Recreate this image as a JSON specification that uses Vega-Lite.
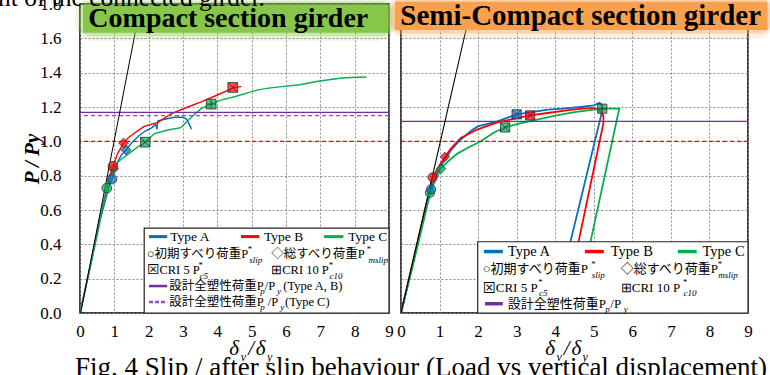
{
  "$schema": "https://vega.github.io/schema/vega-lite/v6.json",
  "background": "white",
  "padding": {"left": -3, "top": -15, "right": 0, "bottom": 0},
  "bounds": "flush",
  "spacing": 12,
  "config": {
    "view": {"stroke": "black", "strokeWidth": 1.5},
    "axis": {"domain": false, "ticks": false, "labelFont": "Liberation Serif", "labelFontSize": 17, "labelColor": "black", "gridColor": "#8a8a8a", "gridDash": [2, 2], "gridWidth": 1, "labelFlush": false, "labelOverlap": false, "tickCount": 20},
    "style": {
      "lg": {"font": "Liberation Serif, Noto Sans CJK JP", "fontSize": 12.5, "align": "left", "baseline": "middle", "color": "black"},
      "lgb": {"font": "Liberation Serif", "fontSize": 13.5, "align": "left", "baseline": "middle", "color": "black"},
      "sub": {"font": "Liberation Serif", "fontSize": 9, "fontStyle": "italic", "align": "left", "baseline": "middle", "color": "black"},
      "xt": {"font": "Liberation Serif", "fontSize": 21, "fontStyle": "italic", "align": "left", "baseline": "alphabetic", "color": "black"},
      "xs": {"font": "Liberation Serif", "fontSize": 12, "fontStyle": "italic", "align": "left", "baseline": "alphabetic", "color": "black"}
    }
  },
  "datasets": {
    "curvesL": [
      {"type": "Type A", "i": 0, "x": 0, "y": 0}, {"type": "Type A", "i": 1, "x": 0.3, "y": 0.27}, {"type": "Type A", "i": 2, "x": 0.6, "y": 0.55}, {"type": "Type A", "i": 3, "x": 0.85, "y": 0.74}, {"type": "Type A", "i": 4, "x": 0.93, "y": 0.78}, {"type": "Type A", "i": 5, "x": 1.05, "y": 0.86}, {"type": "Type A", "i": 6, "x": 1.2, "y": 0.92}, {"type": "Type A", "i": 7, "x": 1.34, "y": 0.95}, {"type": "Type A", "i": 8, "x": 1.5, "y": 0.99}, {"type": "Type A", "i": 9, "x": 1.7, "y": 1.03}, {"type": "Type A", "i": 10, "x": 1.9, "y": 1.06}, {"type": "Type A", "i": 11, "x": 2.1, "y": 1.08}, {"type": "Type A", "i": 12, "x": 2.2, "y": 1.1}, {"type": "Type A", "i": 13, "x": 2.24, "y": 1.07}, {"type": "Type A", "i": 14, "x": 2.27, "y": 1.12}, {"type": "Type A", "i": 15, "x": 2.5, "y": 1.13}, {"type": "Type A", "i": 16, "x": 2.75, "y": 1.14}, {"type": "Type A", "i": 17, "x": 3.0, "y": 1.14}, {"type": "Type A", "i": 18, "x": 3.1, "y": 1.13}, {"type": "Type A", "i": 19, "x": 3.18, "y": 1.1}, {"type": "Type A", "i": 20, "x": 3.25, "y": 1.07},
      {"type": "Type B", "i": 0, "x": 0, "y": 0}, {"type": "Type B", "i": 1, "x": 0.3, "y": 0.28}, {"type": "Type B", "i": 2, "x": 0.6, "y": 0.57}, {"type": "Type B", "i": 3, "x": 0.85, "y": 0.79}, {"type": "Type B", "i": 4, "x": 0.96, "y": 0.855}, {"type": "Type B", "i": 5, "x": 1.1, "y": 0.93}, {"type": "Type B", "i": 6, "x": 1.27, "y": 0.99}, {"type": "Type B", "i": 7, "x": 1.4, "y": 1.02}, {"type": "Type B", "i": 8, "x": 1.6, "y": 1.05}, {"type": "Type B", "i": 9, "x": 1.87, "y": 1.087}, {"type": "Type B", "i": 10, "x": 2.27, "y": 1.11}, {"type": "Type B", "i": 11, "x": 2.65, "y": 1.16}, {"type": "Type B", "i": 12, "x": 3.14, "y": 1.2}, {"type": "Type B", "i": 13, "x": 3.53, "y": 1.23}, {"type": "Type B", "i": 14, "x": 4.0, "y": 1.27}, {"type": "Type B", "i": 15, "x": 4.45, "y": 1.31}, {"type": "Type B", "i": 16, "x": 4.7, "y": 1.32},
      {"type": "Type C", "i": 0, "x": 0, "y": 0}, {"type": "Type C", "i": 1, "x": 0.3, "y": 0.27}, {"type": "Type C", "i": 2, "x": 0.6, "y": 0.56}, {"type": "Type C", "i": 3, "x": 0.78, "y": 0.727}, {"type": "Type C", "i": 4, "x": 0.9, "y": 0.8}, {"type": "Type C", "i": 5, "x": 0.98, "y": 0.84}, {"type": "Type C", "i": 6, "x": 1.1, "y": 0.88}, {"type": "Type C", "i": 7, "x": 1.3, "y": 0.91}, {"type": "Type C", "i": 8, "x": 1.5, "y": 0.94}, {"type": "Type C", "i": 9, "x": 1.7, "y": 0.97}, {"type": "Type C", "i": 10, "x": 1.9, "y": 0.995}, {"type": "Type C", "i": 11, "x": 2.17, "y": 1.045}, {"type": "Type C", "i": 12, "x": 2.56, "y": 1.066}, {"type": "Type C", "i": 13, "x": 2.94, "y": 1.08}, {"type": "Type C", "i": 14, "x": 3.24, "y": 1.14}, {"type": "Type C", "i": 15, "x": 3.53, "y": 1.19}, {"type": "Type C", "i": 16, "x": 3.82, "y": 1.217}, {"type": "Type C", "i": 17, "x": 4.1, "y": 1.24}, {"type": "Type C", "i": 18, "x": 4.5, "y": 1.26}, {"type": "Type C", "i": 19, "x": 5.18, "y": 1.3}, {"type": "Type C", "i": 20, "x": 5.5, "y": 1.31}, {"type": "Type C", "i": 21, "x": 5.95, "y": 1.32}, {"type": "Type C", "i": 22, "x": 6.4, "y": 1.33}, {"type": "Type C", "i": 23, "x": 6.93, "y": 1.35}, {"type": "Type C", "i": 24, "x": 7.3, "y": 1.36}, {"type": "Type C", "i": 25, "x": 7.7, "y": 1.37}, {"type": "Type C", "i": 26, "x": 8.34, "y": 1.375}
    ],
    "curvesR": [
      {"type": "Type A", "i": 0, "x": 0, "y": 0}, {"type": "Type A", "i": 1, "x": 0.3, "y": 0.28}, {"type": "Type A", "i": 2, "x": 0.6, "y": 0.56}, {"type": "Type A", "i": 3, "x": 0.78, "y": 0.72}, {"type": "Type A", "i": 4, "x": 0.9, "y": 0.8}, {"type": "Type A", "i": 5, "x": 1.1, "y": 0.88}, {"type": "Type A", "i": 6, "x": 1.3, "y": 0.95}, {"type": "Type A", "i": 7, "x": 1.5, "y": 1.0}, {"type": "Type A", "i": 8, "x": 1.81, "y": 1.06}, {"type": "Type A", "i": 9, "x": 1.99, "y": 1.087}, {"type": "Type A", "i": 10, "x": 2.5, "y": 1.116}, {"type": "Type A", "i": 11, "x": 3.0, "y": 1.157}, {"type": "Type A", "i": 12, "x": 3.4, "y": 1.17}, {"type": "Type A", "i": 13, "x": 3.8, "y": 1.185}, {"type": "Type A", "i": 14, "x": 4.2, "y": 1.19}, {"type": "Type A", "i": 15, "x": 4.66, "y": 1.2}, {"type": "Type A", "i": 16, "x": 5.0, "y": 1.21}, {"type": "Type A", "i": 17, "x": 5.15, "y": 1.225}, {"type": "Type A", "i": 18, "x": 5.2, "y": 1.215}, {"type": "Type A", "i": 19, "x": 5.2, "y": 1.16}, {"type": "Type A", "i": 20, "x": 4.4, "y": 0.42}, {"type": "Type A", "i": 21, "x": 3.96, "y": 0.0},
      {"type": "Type B", "i": 0, "x": 0, "y": 0}, {"type": "Type B", "i": 1, "x": 0.3, "y": 0.29}, {"type": "Type B", "i": 2, "x": 0.6, "y": 0.58}, {"type": "Type B", "i": 3, "x": 0.82, "y": 0.79}, {"type": "Type B", "i": 4, "x": 1.0, "y": 0.86}, {"type": "Type B", "i": 5, "x": 1.14, "y": 0.91}, {"type": "Type B", "i": 6, "x": 1.3, "y": 0.96}, {"type": "Type B", "i": 7, "x": 1.55, "y": 1.02}, {"type": "Type B", "i": 8, "x": 1.99, "y": 1.07}, {"type": "Type B", "i": 9, "x": 2.5, "y": 1.11}, {"type": "Type B", "i": 10, "x": 3.0, "y": 1.135}, {"type": "Type B", "i": 11, "x": 3.35, "y": 1.151}, {"type": "Type B", "i": 12, "x": 3.8, "y": 1.165}, {"type": "Type B", "i": 13, "x": 4.3, "y": 1.18}, {"type": "Type B", "i": 14, "x": 4.7, "y": 1.19}, {"type": "Type B", "i": 15, "x": 5.0, "y": 1.194}, {"type": "Type B", "i": 16, "x": 5.1, "y": 1.19}, {"type": "Type B", "i": 17, "x": 5.25, "y": 1.15}, {"type": "Type B", "i": 18, "x": 5.25, "y": 1.106}, {"type": "Type B", "i": 19, "x": 4.61, "y": 0.42}, {"type": "Type B", "i": 20, "x": 4.22, "y": 0.0},
      {"type": "Type C", "i": 0, "x": 0, "y": 0}, {"type": "Type C", "i": 1, "x": 0.3, "y": 0.27}, {"type": "Type C", "i": 2, "x": 0.6, "y": 0.55}, {"type": "Type C", "i": 3, "x": 0.75, "y": 0.7}, {"type": "Type C", "i": 4, "x": 0.9, "y": 0.78}, {"type": "Type C", "i": 5, "x": 1.04, "y": 0.84}, {"type": "Type C", "i": 6, "x": 1.2, "y": 0.88}, {"type": "Type C", "i": 7, "x": 1.47, "y": 0.93}, {"type": "Type C", "i": 8, "x": 1.8, "y": 0.97}, {"type": "Type C", "i": 9, "x": 2.07, "y": 1.0}, {"type": "Type C", "i": 10, "x": 2.4, "y": 1.05}, {"type": "Type C", "i": 11, "x": 2.7, "y": 1.081}, {"type": "Type C", "i": 12, "x": 3.0, "y": 1.1}, {"type": "Type C", "i": 13, "x": 3.5, "y": 1.125}, {"type": "Type C", "i": 14, "x": 4.0, "y": 1.15}, {"type": "Type C", "i": 15, "x": 4.5, "y": 1.17}, {"type": "Type C", "i": 16, "x": 5.0, "y": 1.185}, {"type": "Type C", "i": 17, "x": 5.22, "y": 1.19}, {"type": "Type C", "i": 18, "x": 5.66, "y": 1.19}, {"type": "Type C", "i": 19, "x": 4.92, "y": 0.42}, {"type": "Type C", "i": 20, "x": 4.52, "y": 0.0}
    ],
    "markersL": [
      {"type": "Type C", "kind": "slip", "x": 0.78, "y": 0.727},
      {"type": "Type C", "kind": "mslip", "x": 0.98, "y": 0.84},
      {"type": "Type A", "kind": "slip", "x": 0.93, "y": 0.78},
      {"type": "Type A", "kind": "mslip", "x": 1.34, "y": 0.95},
      {"type": "Type B", "kind": "slip", "x": 0.96, "y": 0.855},
      {"type": "Type B", "kind": "mslip", "x": 1.27, "y": 0.99},
      {"type": "Type B", "kind": "cri5", "x": 4.45, "y": 1.314},
      {"type": "Type C", "kind": "cri5", "x": 1.9, "y": 0.995},
      {"type": "Type C", "kind": "cri10", "x": 3.82, "y": 1.217}
    ],
    "markersR": [
      {"type": "Type C", "kind": "slip", "x": 0.75, "y": 0.7},
      {"type": "Type A", "kind": "slip", "x": 0.78, "y": 0.72},
      {"type": "Type B", "kind": "slip", "x": 0.82, "y": 0.79},
      {"type": "Type C", "kind": "mslip", "x": 1.04, "y": 0.84},
      {"type": "Type B", "kind": "mslip", "x": 1.14, "y": 0.91},
      {"type": "Type A", "kind": "cri5", "x": 3.0, "y": 1.157},
      {"type": "Type B", "kind": "cri5", "x": 3.35, "y": 1.151},
      {"type": "Type C", "kind": "cri5", "x": 2.7, "y": 1.081},
      {"type": "Type C", "kind": "cri10", "x": 5.22, "y": 1.19}
    ]
  },
  "hconcat": [
    {
      "width": 309,
      "height": 309,
      "layer": [
        {
          "data": {"name": "curvesL"},
          "mark": {"type": "line", "strokeWidth": 1.4},
          "encoding": {
            "x": {"field": "x", "type": "quantitative", "scale": {"domain": [0, 9], "nice": false, "zero": false}, "axis": {"values": [0, 1, 2, 3, 4, 5, 6, 7, 8, 9], "tickCount": 20, "format": "d", "labelPadding": 10, "labelFont": "Liberation Serif", "labelFontSize": 17, "labelColor": "black", "labelOverlap": false, "labelFlush": false, "domain": false, "ticks": false, "grid": true, "gridColor": "#8a8a8a", "gridDash": [2, 2], "title": null}},
            "y": {"field": "y", "type": "quantitative", "scale": {"domain": [0, 1.8], "nice": false}, "axis": {"values": [0, 0.2, 0.4, 0.6, 0.8, 1.0, 1.2, 1.4, 1.6, 1.8], "tickCount": 20, "format": ".1f", "labelPadding": 19, "labelFont": "Liberation Serif", "labelFontSize": 17, "labelColor": "black", "labelOverlap": false, "labelFlush": false, "domain": false, "ticks": false, "grid": true, "gridColor": "#8a8a8a", "gridDash": [2, 2], "title": "P / Py", "titleFont": "Liberation Serif", "titleFontSize": 21, "titleFontStyle": "italic", "titleFontWeight": "bold", "titleColor": "black", "titlePadding": -3}},
            "color": {"field": "type", "type": "nominal", "scale": {"domain": ["Type A", "Type B", "Type C"], "range": ["#0070C0", "#FF0000", "#00B050"]}, "legend": null},
            "order": {"field": "i", "type": "quantitative"}
          }
        },
        {"data": {"values": [{}]}, "mark": {"type": "rule", "color": "#FF0000", "strokeDash": [4, 3], "strokeWidth": 1.2}, "encoding": {"y": {"datum": 1.0}}},
        {"data": {"values": [{}]}, "mark": {"type": "rule", "color": "#8E4FD0", "strokeDash": [4, 3], "strokeWidth": 1.2}, "encoding": {"y": {"datum": 1.15}}},
        {"data": {"values": [{}]}, "mark": {"type": "rule", "color": "#7030A0", "strokeWidth": 1.2}, "encoding": {"y": {"datum": 1.169}}},
        {"data": {"values": [{}]}, "mark": {"type": "rule", "color": "black", "strokeWidth": 1}, "encoding": {"x": {"datum": 0.02}, "y": {"datum": 0}, "x2": {"datum": 1.77}, "y2": {"datum": 1.8}}},
        {
          "data": {"name": "markersL"},
          "mark": {"type": "point", "filled": true, "size": 95, "fillOpacity": 0.7, "stroke": "#303030", "strokeWidth": 0.8},
          "encoding": {
            "x": {"field": "x", "type": "quantitative"},
            "y": {"field": "y", "type": "quantitative"},
            "color": {"field": "type", "type": "nominal", "legend": null},
            "shape": {"field": "kind", "type": "nominal", "scale": {"domain": ["slip", "mslip", "cri5", "cri10"], "range": ["circle", "diamond", "M-1,-1H1V1H-1ZM-1,-1L1,1M1,-1L-1,1", "M-1,-1H1V1H-1ZM0,-1V1M-1,0H1"]}, "legend": null}
          }
        },
        {"data": {"values": [{}]}, "mark": {"type": "rect", "fill": "white", "stroke": "#222", "strokeWidth": 1.2}, "encoding": {"x": {"datum": 1.87}, "x2": {"datum": 9}, "y": {"datum": 0}, "y2": {"datum": 0.495}}},
        {"data": {"values": [{}]}, "mark": {"type": "rule", "color": "#0070C0", "strokeWidth": 3}, "encoding": {"x": {"datum": 2.01}, "x2": {"datum": 2.54}, "y": {"datum": 0.445}}},
        {"data": {"values": [{}]}, "mark": {"type": "rule", "color": "#FF0000", "strokeWidth": 3}, "encoding": {"x": {"datum": 4.69}, "x2": {"datum": 5.22}, "y": {"datum": 0.445}}},
        {"data": {"values": [{}]}, "mark": {"type": "rule", "color": "#00B050", "strokeWidth": 3}, "encoding": {"x": {"datum": 7.11}, "x2": {"datum": 7.67}, "y": {"datum": 0.445}}},
        {"data": {"values": [{}]}, "mark": {"type": "text", "style": "lgb"}, "encoding": {"x": {"datum": 2.63}, "y": {"datum": 0.445}, "text": {"value": "Type A"}}},
        {"data": {"values": [{}]}, "mark": {"type": "text", "style": "lgb"}, "encoding": {"x": {"datum": 5.36}, "y": {"datum": 0.445}, "text": {"value": "Type B"}}},
        {"data": {"values": [{}]}, "mark": {"type": "text", "style": "lgb"}, "encoding": {"x": {"datum": 7.81}, "y": {"datum": 0.445}, "text": {"value": "Type C"}}},
        {"data": {"values": [{}]}, "mark": {"type": "text", "style": "lg"}, "encoding": {"x": {"datum": 1.95}, "y": {"datum": 0.344}, "text": {"value": "○初期すべり荷重P"}}},
        {"data": {"values": [{}]}, "mark": {"type": "text", "style": "sub"}, "encoding": {"x": {"datum": 4.87}, "y": {"datum": 0.374}, "text": {"value": "*"}}},
        {"data": {"values": [{}]}, "mark": {"type": "text", "style": "sub"}, "encoding": {"x": {"datum": 4.93}, "y": {"datum": 0.31}, "text": {"value": "slip"}}},
        {"data": {"values": [{}]}, "mark": {"type": "text", "style": "lg"}, "encoding": {"x": {"datum": 5.57}, "y": {"datum": 0.344}, "text": {"value": "◇総すべり荷重P"}}},
        {"data": {"values": [{}]}, "mark": {"type": "text", "style": "sub"}, "encoding": {"x": {"datum": 8.34}, "y": {"datum": 0.374}, "text": {"value": "*"}}},
        {"data": {"values": [{}]}, "mark": {"type": "text", "style": "sub"}, "encoding": {"x": {"datum": 8.4}, "y": {"datum": 0.31}, "text": {"value": "mslip"}}},
        {"data": {"values": [{}]}, "mark": {"type": "text", "style": "lg"}, "encoding": {"x": {"datum": 1.95}, "y": {"datum": 0.25}, "text": {"value": "⊠CRI 5 P"}}},
        {"data": {"values": [{}]}, "mark": {"type": "text", "style": "sub"}, "encoding": {"x": {"datum": 3.44}, "y": {"datum": 0.28}, "text": {"value": "*"}}},
        {"data": {"values": [{}]}, "mark": {"type": "text", "style": "sub"}, "encoding": {"x": {"datum": 3.48}, "y": {"datum": 0.216}, "text": {"value": "c5"}}},
        {"data": {"values": [{}]}, "mark": {"type": "text", "style": "lg"}, "encoding": {"x": {"datum": 5.57}, "y": {"datum": 0.25}, "text": {"value": "⊞CRI 10 P"}}},
        {"data": {"values": [{}]}, "mark": {"type": "text", "style": "sub"}, "encoding": {"x": {"datum": 7.23}, "y": {"datum": 0.28}, "text": {"value": "*"}}},
        {"data": {"values": [{}]}, "mark": {"type": "text", "style": "sub"}, "encoding": {"x": {"datum": 7.27}, "y": {"datum": 0.216}, "text": {"value": "c10"}}},
        {"data": {"values": [{}]}, "mark": {"type": "rule", "color": "#7030A0", "strokeWidth": 2.5}, "encoding": {"x": {"datum": 2.01}, "x2": {"datum": 2.54}, "y": {"datum": 0.157}}},
        {"data": {"values": [{}]}, "mark": {"type": "text", "style": "lg"}, "encoding": {"x": {"datum": 2.6}, "y": {"datum": 0.157}, "text": {"value": "設計全塑性荷重P"}}},
        {"data": {"values": [{}]}, "mark": {"type": "text", "style": "sub"}, "encoding": {"x": {"datum": 5.25}, "y": {"datum": 0.126}, "text": {"value": "p"}}},
        {"data": {"values": [{}]}, "mark": {"type": "text", "style": "lg"}, "encoding": {"x": {"datum": 5.38}, "y": {"datum": 0.157}, "text": {"value": "/P"}}},
        {"data": {"values": [{}]}, "mark": {"type": "text", "style": "sub"}, "encoding": {"x": {"datum": 5.74}, "y": {"datum": 0.126}, "text": {"value": "y"}}},
        {"data": {"values": [{}]}, "mark": {"type": "text", "style": "lg"}, "encoding": {"x": {"datum": 5.92}, "y": {"datum": 0.157}, "text": {"value": "(Type A, B)"}}},
        {"data": {"values": [{}]}, "mark": {"type": "rule", "color": "#8E4FD0", "strokeWidth": 2.5, "strokeDash": [4, 2]}, "encoding": {"x": {"datum": 2.01}, "x2": {"datum": 2.54}, "y": {"datum": 0.064}}},
        {"data": {"values": [{}]}, "mark": {"type": "text", "style": "lg"}, "encoding": {"x": {"datum": 2.6}, "y": {"datum": 0.064}, "text": {"value": "設計全塑性荷重P"}}},
        {"data": {"values": [{}]}, "mark": {"type": "text", "style": "sub"}, "encoding": {"x": {"datum": 5.25}, "y": {"datum": 0.033}, "text": {"value": "p"}}},
        {"data": {"values": [{}]}, "mark": {"type": "text", "style": "lg"}, "encoding": {"x": {"datum": 5.47}, "y": {"datum": 0.064}, "text": {"value": "/P"}}},
        {"data": {"values": [{}]}, "mark": {"type": "text", "style": "sub"}, "encoding": {"x": {"datum": 5.83}, "y": {"datum": 0.033}, "text": {"value": "y"}}},
        {"data": {"values": [{}]}, "mark": {"type": "text", "style": "lg"}, "encoding": {"x": {"datum": 5.97}, "y": {"datum": 0.064}, "text": {"value": "(Type C)"}}},
        {"data": {"values": [{}]}, "mark": {"type": "rect", "fill": null, "stroke": "#8DCB4F", "strokeWidth": 18, "strokeOpacity": 0.18, "cornerRadius": 10, "clip": false}, "encoding": {"x": {"datum": 0.12}, "x2": {"datum": 8.95}, "y": {"datum": 1.789}, "y2": {"datum": 1.638}}},
        {"data": {"values": [{}]}, "mark": {"type": "rect", "fill": null, "stroke": "#8DCB4F", "strokeWidth": 9, "strokeOpacity": 0.35, "cornerRadius": 6, "clip": false}, "encoding": {"x": {"datum": 0.12}, "x2": {"datum": 8.95}, "y": {"datum": 1.789}, "y2": {"datum": 1.638}}},
        {"data": {"values": [{}]}, "mark": {"type": "rect", "fill": "#86C74A", "stroke": "#86C74A", "strokeWidth": 2, "clip": false}, "encoding": {"x": {"datum": 0.12}, "x2": {"datum": 8.95}, "y": {"datum": 1.789}, "y2": {"datum": 1.638}}},
        {"data": {"values": [{}]}, "mark": {"type": "text", "font": "Liberation Serif", "fontSize": 28, "fontWeight": "bold", "align": "center", "baseline": "alphabetic", "color": "black", "clip": false}, "encoding": {"x": {"datum": 4.32}, "y": {"datum": 1.664}, "text": {"value": "Compact section girder"}}},
        {"data": {"values": [{}]}, "mark": {"type": "text", "font": "Liberation Serif", "fontSize": 25.5, "align": "left", "baseline": "alphabetic", "color": "black", "clip": false}, "encoding": {"x": {"datum": -2.39}, "y": {"datum": 1.789}, "text": {"value": "nt of the connected girder."}}},
        {"data": {"values": [{}]}, "mark": {"type": "text", "style": "xt"}, "encoding": {"x": {"datum": 4.35}, "y": {"datum": -0.245}, "text": {"value": "δ"}}},
        {"data": {"values": [{}]}, "mark": {"type": "text", "style": "xs"}, "encoding": {"x": {"datum": 4.68}, "y": {"datum": -0.28}, "text": {"value": "v"}}},
        {"data": {"values": [{}]}, "mark": {"type": "text", "style": "xt"}, "encoding": {"x": {"datum": 4.9}, "y": {"datum": -0.245}, "text": {"value": "/"}}},
        {"data": {"values": [{}]}, "mark": {"type": "text", "style": "xt"}, "encoding": {"x": {"datum": 5.12}, "y": {"datum": -0.245}, "text": {"value": "δ"}}},
        {"data": {"values": [{}]}, "mark": {"type": "text", "style": "xs"}, "encoding": {"x": {"datum": 5.45}, "y": {"datum": -0.28}, "text": {"value": "y"}}},
        {"data": {"values": [{}]}, "mark": {"type": "text", "font": "Liberation Serif", "fontSize": 27, "align": "left", "baseline": "alphabetic", "color": "black"}, "encoding": {"x": {"datum": -0.146}, "y": {"datum": -0.365}, "text": {"value": "Fig. 4 Slip / after slip behaviour (Load vs vertical displacement)"}}}
      ]
    },
    {
      "width": 347,
      "height": 309,
      "layer": [
        {
          "data": {"name": "curvesR"},
          "mark": {"type": "line", "strokeWidth": 1.8},
          "encoding": {
            "x": {"field": "x", "type": "quantitative", "scale": {"domain": [0, 9], "nice": false, "zero": false}, "axis": {"values": [0, 1, 2, 3, 4, 5, 6, 7, 8, 9], "tickCount": 20, "format": "d", "labelPadding": 10, "labelFont": "Liberation Serif", "labelFontSize": 17, "labelColor": "black", "labelOverlap": false, "labelFlush": false, "domain": false, "ticks": false, "grid": true, "gridColor": "#8a8a8a", "gridDash": [2, 2], "title": null}},
            "y": {"field": "y", "type": "quantitative", "scale": {"domain": [0, 1.8], "nice": false}, "axis": {"values": [0, 0.2, 0.4, 0.6, 0.8, 1.0, 1.2, 1.4, 1.6, 1.8], "tickCount": 20, "labels": false, "domain": false, "ticks": false, "grid": true, "gridColor": "#8a8a8a", "gridDash": [2, 2], "title": null}},
            "color": {"field": "type", "type": "nominal", "scale": {"domain": ["Type A", "Type B", "Type C"], "range": ["#0070C0", "#FF0000", "#00B050"]}, "legend": null},
            "order": {"field": "i", "type": "quantitative"}
          }
        },
        {"data": {"values": [{}]}, "mark": {"type": "rule", "color": "#FF0000", "strokeDash": [4, 3], "strokeWidth": 1.2}, "encoding": {"y": {"datum": 1.0}}},
        {"data": {"values": [{}]}, "mark": {"type": "rule", "color": "#7030A0", "strokeWidth": 1.2}, "encoding": {"y": {"datum": 1.116}}},
        {"data": {"values": [{}]}, "mark": {"type": "rule", "color": "black", "strokeWidth": 1.1}, "encoding": {"x": {"datum": 0.0}, "y": {"datum": 0}, "x2": {"datum": 1.84}, "y2": {"datum": 1.8}}},
        {
          "data": {"name": "markersR"},
          "mark": {"type": "point", "filled": true, "size": 85, "fillOpacity": 0.7, "stroke": "#303030", "strokeWidth": 0.8},
          "encoding": {
            "x": {"field": "x", "type": "quantitative"},
            "y": {"field": "y", "type": "quantitative"},
            "color": {"field": "type", "type": "nominal", "legend": null},
            "shape": {"field": "kind", "type": "nominal", "scale": {"domain": ["slip", "mslip", "cri5", "cri10"], "range": ["circle", "diamond", "M-1,-1H1V1H-1ZM-1,-1L1,1M1,-1L-1,1", "M-1,-1H1V1H-1ZM0,-1V1M-1,0H1"]}, "legend": null}
          }
        },
        {"data": {"values": [{}]}, "mark": {"type": "rect", "fill": "white", "stroke": "#222", "strokeWidth": 1.2}, "encoding": {"x": {"datum": 1.99}, "x2": {"datum": 9}, "y": {"datum": 0}, "y2": {"datum": 0.415}}},
        {"data": {"values": [{}]}, "mark": {"type": "rule", "color": "#0070C0", "strokeWidth": 3.5}, "encoding": {"x": {"datum": 2.15}, "x2": {"datum": 2.64}, "y": {"datum": 0.358}}},
        {"data": {"values": [{}]}, "mark": {"type": "rule", "color": "#FF0000", "strokeWidth": 3.5}, "encoding": {"x": {"datum": 4.77}, "x2": {"datum": 5.26}, "y": {"datum": 0.358}}},
        {"data": {"values": [{}]}, "mark": {"type": "rule", "color": "#00B050", "strokeWidth": 3.5}, "encoding": {"x": {"datum": 7.18}, "x2": {"datum": 7.67}, "y": {"datum": 0.358}}},
        {"data": {"values": [{}]}, "mark": {"type": "text", "style": "lgb", "fontSize": 14.5}, "encoding": {"x": {"datum": 2.77}, "y": {"datum": 0.358}, "text": {"value": "Type A"}}},
        {"data": {"values": [{}]}, "mark": {"type": "text", "style": "lgb", "fontSize": 14.5}, "encoding": {"x": {"datum": 5.44}, "y": {"datum": 0.358}, "text": {"value": "Type B"}}},
        {"data": {"values": [{}]}, "mark": {"type": "text", "style": "lgb", "fontSize": 14.5}, "encoding": {"x": {"datum": 7.82}, "y": {"datum": 0.358}, "text": {"value": "Type C"}}},
        {"data": {"values": [{}]}, "mark": {"type": "text", "style": "lg", "fontSize": 13}, "encoding": {"x": {"datum": 2.12}, "y": {"datum": 0.256}, "text": {"value": "○初期すべり荷重P"}}},
        {"data": {"values": [{}]}, "mark": {"type": "text", "style": "sub"}, "encoding": {"x": {"datum": 4.92}, "y": {"datum": 0.286}, "text": {"value": "*"}}},
        {"data": {"values": [{}]}, "mark": {"type": "text", "style": "sub"}, "encoding": {"x": {"datum": 4.95}, "y": {"datum": 0.222}, "text": {"value": "slip"}}},
        {"data": {"values": [{}]}, "mark": {"type": "text", "style": "lg", "fontSize": 13}, "encoding": {"x": {"datum": 5.7}, "y": {"datum": 0.256}, "text": {"value": "◇総すべり荷重P"}}},
        {"data": {"values": [{}]}, "mark": {"type": "text", "style": "sub"}, "encoding": {"x": {"datum": 8.2}, "y": {"datum": 0.286}, "text": {"value": "*"}}},
        {"data": {"values": [{}]}, "mark": {"type": "text", "style": "sub"}, "encoding": {"x": {"datum": 8.23}, "y": {"datum": 0.222}, "text": {"value": "mslip"}}},
        {"data": {"values": [{}]}, "mark": {"type": "text", "style": "lg", "fontSize": 13}, "encoding": {"x": {"datum": 2.12}, "y": {"datum": 0.148}, "text": {"value": "⊠CRI 5 P"}}},
        {"data": {"values": [{}]}, "mark": {"type": "text", "style": "sub"}, "encoding": {"x": {"datum": 3.55}, "y": {"datum": 0.178}, "text": {"value": "*"}}},
        {"data": {"values": [{}]}, "mark": {"type": "text", "style": "sub"}, "encoding": {"x": {"datum": 3.58}, "y": {"datum": 0.114}, "text": {"value": "c5"}}},
        {"data": {"values": [{}]}, "mark": {"type": "text", "style": "lg", "fontSize": 13}, "encoding": {"x": {"datum": 5.7}, "y": {"datum": 0.148}, "text": {"value": "⊞CRI 10 P"}}},
        {"data": {"values": [{}]}, "mark": {"type": "text", "style": "sub"}, "encoding": {"x": {"datum": 7.3}, "y": {"datum": 0.178}, "text": {"value": "*"}}},
        {"data": {"values": [{}]}, "mark": {"type": "text", "style": "sub"}, "encoding": {"x": {"datum": 7.33}, "y": {"datum": 0.114}, "text": {"value": "c10"}}},
        {"data": {"values": [{}]}, "mark": {"type": "rule", "color": "#7030A0", "strokeWidth": 3.5}, "encoding": {"x": {"datum": 2.18}, "x2": {"datum": 2.64}, "y": {"datum": 0.054}}},
        {"data": {"values": [{}]}, "mark": {"type": "text", "style": "lg", "fontSize": 13}, "encoding": {"x": {"datum": 2.77}, "y": {"datum": 0.054}, "text": {"value": "設計全塑性荷重P"}}},
        {"data": {"values": [{}]}, "mark": {"type": "text", "style": "sub"}, "encoding": {"x": {"datum": 5.3}, "y": {"datum": 0.022}, "text": {"value": "p"}}},
        {"data": {"values": [{}]}, "mark": {"type": "text", "style": "lg", "fontSize": 13}, "encoding": {"x": {"datum": 5.43}, "y": {"datum": 0.054}, "text": {"value": "/P"}}},
        {"data": {"values": [{}]}, "mark": {"type": "text", "style": "sub"}, "encoding": {"x": {"datum": 5.78}, "y": {"datum": 0.022}, "text": {"value": "y"}}},
        {"data": {"values": [{}]}, "mark": {"type": "rect", "fill": null, "stroke": "#F9A04C", "strokeWidth": 18, "strokeOpacity": 0.18, "cornerRadius": 10, "clip": false}, "encoding": {"x": {"datum": -0.13}, "x2": {"datum": 9.48}, "y": {"datum": 1.807}, "y2": {"datum": 1.655}}},
        {"data": {"values": [{}]}, "mark": {"type": "rect", "fill": null, "stroke": "#F9A04C", "strokeWidth": 9, "strokeOpacity": 0.35, "cornerRadius": 6, "clip": false}, "encoding": {"x": {"datum": -0.13}, "x2": {"datum": 9.48}, "y": {"datum": 1.807}, "y2": {"datum": 1.655}}},
        {"data": {"values": [{}]}, "mark": {"type": "rect", "fill": "#F9A04C", "stroke": "#F9A04C", "strokeWidth": 2, "clip": false}, "encoding": {"x": {"datum": -0.13}, "x2": {"datum": 9.48}, "y": {"datum": 1.807}, "y2": {"datum": 1.655}}},
        {"data": {"values": [{}]}, "mark": {"type": "text", "font": "Liberation Serif", "fontSize": 29, "fontWeight": "bold", "align": "center", "baseline": "alphabetic", "color": "black", "clip": false}, "encoding": {"x": {"datum": 4.66}, "y": {"datum": 1.675}, "text": {"value": "Semi-Compact section girder"}}},
        {"data": {"values": [{}]}, "mark": {"type": "text", "style": "xt"}, "encoding": {"x": {"datum": 3.74}, "y": {"datum": -0.245}, "text": {"value": "δ"}}},
        {"data": {"values": [{}]}, "mark": {"type": "text", "style": "xs"}, "encoding": {"x": {"datum": 4.03}, "y": {"datum": -0.28}, "text": {"value": "v"}}},
        {"data": {"values": [{}]}, "mark": {"type": "text", "style": "xt"}, "encoding": {"x": {"datum": 4.22}, "y": {"datum": -0.245}, "text": {"value": "/"}}},
        {"data": {"values": [{}]}, "mark": {"type": "text", "style": "xt"}, "encoding": {"x": {"datum": 4.42}, "y": {"datum": -0.245}, "text": {"value": "δ"}}},
        {"data": {"values": [{}]}, "mark": {"type": "text", "style": "xs"}, "encoding": {"x": {"datum": 4.71}, "y": {"datum": -0.28}, "text": {"value": "y"}}}
      ]
    }
  ]
}
